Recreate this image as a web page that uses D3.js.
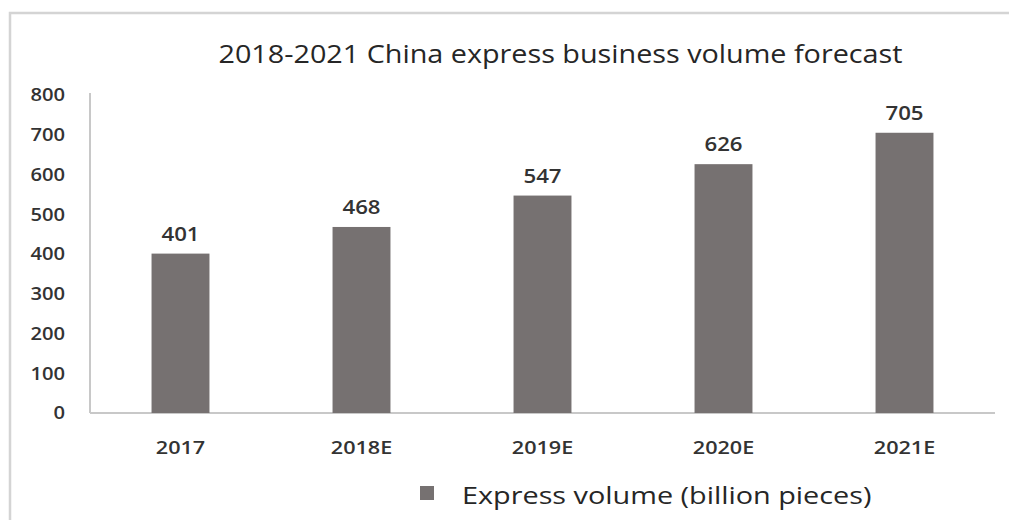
<!DOCTYPE html>
<html>
<head>
<meta charset="utf-8">
<script src="https://cdn.jsdelivr.net/npm/d3@7"></script>
<style>
  html, body { margin: 0; padding: 0; background: #fff; }
  svg { display: block; }
</style>
</head>
<body>
<div id="chart"></div>
<script>
// chart data
var years = ["2017", "2018E", "2019E", "2020E", "2021E"];
var volume = [401, 468, 547, 626, 705];
var yTicks = [0, 100, 200, 300, 400, 500, 600, 700, 800];
var title = "2018-2021 China express business volume forecast";
var seriesName = "Express volume (billion pieces)";

var w = 1009;
var h = 520;
var barColor = "#767171";
var font = "'Open Sans', 'DejaVu Sans', sans-serif";

// the original picture is a bit stretched sideways, so widen text to match
function stretch(sel, k) {
  sel.each(function() {
    var len = this.getComputedTextLength();
    d3.select(this)
      .attr("textLength", len * k)
      .attr("lengthAdjust", "spacingAndGlyphs");
  });
}

var svg = d3.select("#chart")
  .append("svg")
  .attr("width", w)
  .attr("height", h);

// outer frame (right and bottom run off the picture)
svg.append("rect")
  .attr("x", 10)
  .attr("y", 13)
  .attr("width", w + 20)
  .attr("height", h + 20)
  .attr("fill", "none")
  .attr("stroke", "#d4d4d4")
  .attr("stroke-width", 2.5);

var x = d3.scaleBand().domain(years).range([90, 995]).paddingInner(0.68).paddingOuter(0.34);
var y = d3.scaleLinear().domain([0, 800]).range([413, 95]);

// title
svg.append("text")
  .attr("x", 560.5)
  .attr("y", 63)
  .attr("text-anchor", "middle")
  .attr("font-family", font)
  .attr("font-size", 25)
  .attr("fill", "#262626")
  .text(title)
  .call(stretch, 1.15);

// y axis
var yAxis = svg.append("g")
  .attr("transform", "translate(90,0)")
  .call(d3.axisLeft(y).tickValues(yTicks).tickSize(0).tickPadding(25));
yAxis.select(".domain").attr("stroke", "#c8c8c8").attr("stroke-width", 2)
  .attr("d", "M0," + (y(800) - 2) + "V" + y(0));
yAxis.selectAll("text")
  .attr("font-family", font)
  .attr("font-size", 18)
  .attr("font-weight", 600)
  .attr("fill", "#333")
  .call(stretch, 1.12);

// x axis
var xAxis = svg.append("g")
  .attr("transform", "translate(0," + y(0) + ")")
  .call(d3.axisBottom(x).tickSize(0).tickPadding(28));
xAxis.select(".domain").attr("stroke", "#c8c8c8").attr("stroke-width", 2)
  .attr("d", "M90,0H995");
xAxis.selectAll("text")
  .attr("font-family", font)
  .attr("font-size", 18)
  .attr("font-weight", 600)
  .attr("fill", "#333")
  .call(stretch, 1.2);

// bars
svg.selectAll(".bar")
  .data(volume)
  .join("rect")
  .attr("class", "bar")
  .attr("x", function(d, i) { return x(years[i]); })
  .attr("y", function(d) { return y(d); })
  .attr("width", x.bandwidth())
  .attr("height", function(d) { return y(0) - y(d); })
  .attr("fill", barColor);

// value labels
svg.selectAll(".val")
  .data(volume)
  .join("text")
  .attr("class", "val")
  .attr("x", function(d, i) { return x(years[i]) + x.bandwidth() / 2; })
  .attr("y", function(d) { return y(d) - 13; })
  .attr("text-anchor", "middle")
  .attr("font-family", font)
  .attr("font-size", 19)
  .attr("font-weight", 600)
  .attr("fill", "#333")
  .text(function(d) { return d; })
  .call(stretch, 1.17);

// legend
svg.append("rect")
  .attr("x", 420)
  .attr("y", 486)
  .attr("width", 14)
  .attr("height", 14)
  .attr("fill", barColor);
svg.append("text")
  .attr("x", 462)
  .attr("y", 504)
  .attr("font-family", font)
  .attr("font-size", 24)
  .attr("fill", "#262626")
  .text(seriesName)
  .call(stretch, 1.2);
</script>
</body>
</html>
